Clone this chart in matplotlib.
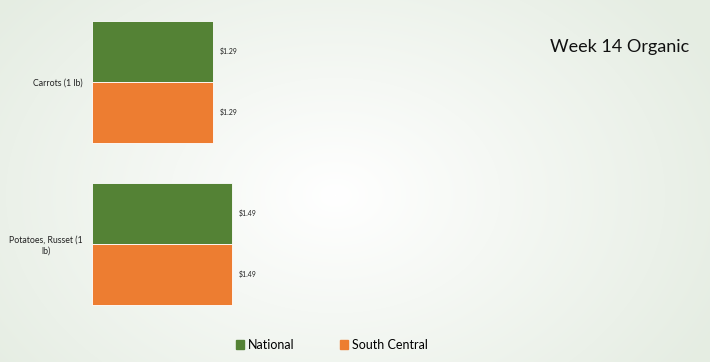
import numpy as np
import matplotlib
matplotlib.use("Agg")
import matplotlib.pyplot as plt
from matplotlib.patches import Patch

plt.rcParams['font.family'] = ['Lato', 'DejaVu Sans']

categories = ["Carrots (1 lb)", "Potatoes, Russet (1\nlb)"]
series_names = ["National", "South Central"]
national = [1.29, 1.49]
south_central = [1.29, 1.49]
colors = ["#548235", "#ED7D31"]

W, H = 710, 362
fig = plt.figure(figsize=(W / 100, H / 100), dpi=100)

# radial gradient background
bg = fig.add_axes([0, 0, 1, 1])
yy, xx = np.mgrid[0:H, 0:W]
r = np.sqrt(((xx - 335) / 420.0) ** 2 + ((yy - 195) / 300.0) ** 2)
r = np.clip(r, 0, 1)
c0 = np.array([1.0, 1.0, 1.0])
c1 = np.array([0.90, 0.93, 0.89])
img = c0[None, None, :] * (1 - r[..., None]) + c1[None, None, :] * r[..., None]
bg.imshow(img, aspect="auto", extent=[0, W, H, 0])
bg.axis("off")

# plot area: zero at x=92px, ~94px per unit
left = 92 / W
ax = fig.add_axes([left, 37 / H, 564 / W, 324 / H])
ax.patch.set_alpha(0)
y = np.arange(len(categories))
h = 0.377
b1 = ax.barh(y - h / 2, national, height=h, color=colors[0], edgecolor="white", linewidth=0.6)
b2 = ax.barh(y + h / 2, south_central, height=h, color=colors[1], edgecolor="white", linewidth=0.6)
ax.set_xlim(0, 6)
ax.set_ylim(1.5, -0.5)
for bars in (b1, b2):
    for rect in bars:
        v = rect.get_width()
        ax.text(v + 0.07, rect.get_y() + rect.get_height() / 2, f"${v:.2f}",
                va="center", ha="left", fontsize=5, color="#222222")
ax.set_yticks(y)
ax.set_yticklabels(categories, fontsize=6.3, color="#222222", ha="right",
                   multialignment="center", linespacing=1.25)
ax.tick_params(axis="y", length=0, pad=6.5)
ax.set_xticks([])
for s in ax.spines.values():
    s.set_visible(False)

fig.text(620 / W, 1 - 47 / H, "Week 14 Organic", fontsize=13, ha="center", va="center", color="#111111")

handles = [Patch(color=c) for c in colors]
fig.legend(handles, series_names, loc="center", bbox_to_anchor=(332 / W, 1 - 345 / H),
           ncol=2, frameon=False, fontsize=9, handlelength=0.65, handleheight=0.65,
           handletextpad=0.35, columnspacing=3.6)

fig.savefig("out.png", dpi=100)
